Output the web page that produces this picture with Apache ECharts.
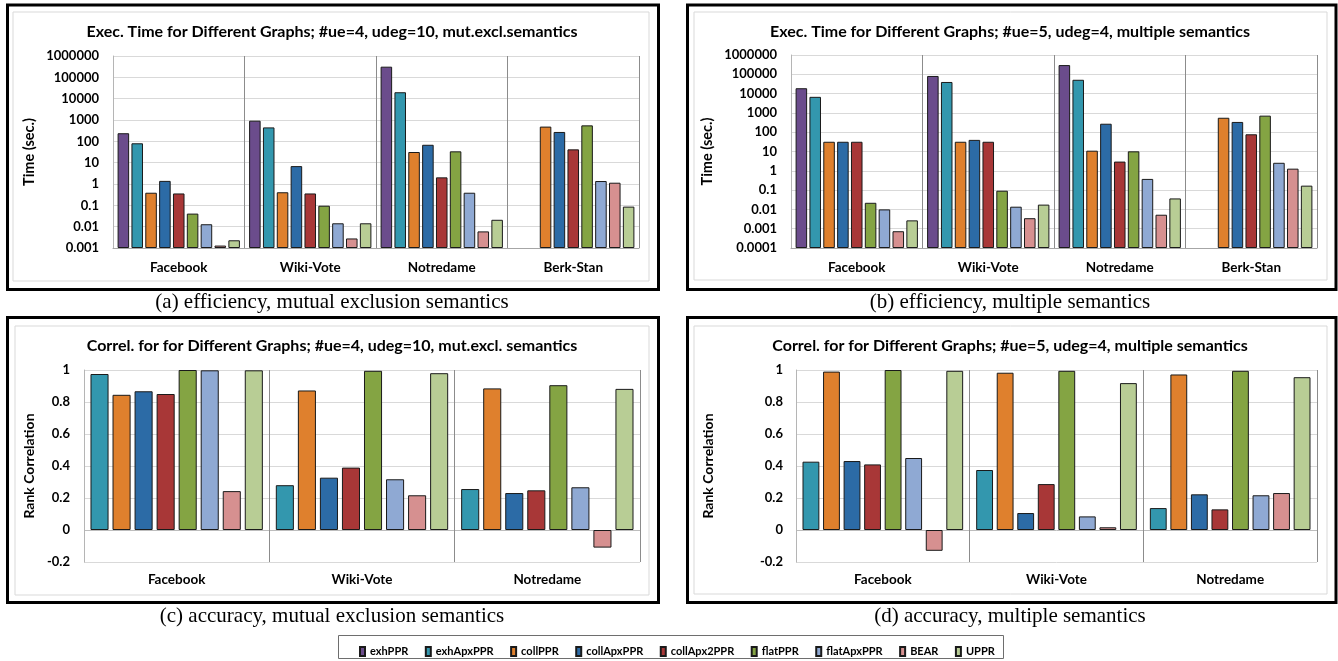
<!DOCTYPE html>
<html><head><meta charset="utf-8">
<script src="https://cdn.jsdelivr.net/npm/echarts@6/dist/echarts.min.js"></script>
<style>html,body{margin:0;padding:0;background:#fff}#c{width:1338px;height:661px}</style>
</head><body><div id="c"></div>
<script>
// ---------- categories / names ----------
const methods = ['exhPPR','exhApxPPR','collPPR','collApxPPR','collApx2PPR','flatPPR','flatApxPPR','BEAR','UPPR'];
const graphs4 = ['Facebook','Wiki-Vote','Notredame','Berk-Stan'];
const graphs3 = ['Facebook','Wiki-Vote','Notredame'];

// ---------- (a) exec time, mutual exclusion semantics ----------
const aExhPPR      = [240, 930, 316000, null];
const aExhApxPPR   = [81, 450, 20000, null];
const aCollPPR     = [0.39, 0.41, 31.6, 490];
const aCollApxPPR  = [1.4, 6.9, 69, 275];
const aCollApx2PPR = [0.36, 0.36, 2.05, 42];
const aFlatPPR     = [0.041, 0.096, 34, 560];
const aFlatApxPPR  = [0.013, 0.0144, 0.39, 1.38];
const aBEAR        = [0.0013, 0.0028, 0.006, 1.15];
const aUPPR        = [0.0023, 0.0144, 0.021, 0.087];

// ---------- (b) exec time, multiple semantics ----------
const bExhPPR      = [19000, 82000, 300000, null];
const bExhApxPPR   = [6800, 40000, 52000, null];
const bCollPPR     = [32, 32, 11, 560];
const bCollApxPPR  = [32, 40, 275, 340];
const bCollApx2PPR = [32, 32, 3.0, 78];
const bFlatPPR     = [0.022, 0.093, 10.2, 720];
const bFlatApxPPR  = [0.01, 0.0138, 0.38, 2.6];
const bBEAR        = [0.00074, 0.0035, 0.0053, 1.29];
const bUPPR        = [0.0027, 0.0177, 0.037, 0.17];

// ---------- (c) rank correlation, mutual exclusion semantics ----------
const cExhApxPPR   = [0.975, 0.28, 0.256];
const cCollPPR     = [0.845, 0.872, 0.885];
const cCollApxPPR  = [0.867, 0.327, 0.231];
const cCollApx2PPR = [0.85, 0.39, 0.248];
const cFlatPPR     = [1.0, 0.995, 0.905];
const cFlatApxPPR  = [0.998, 0.317, 0.267];
const cBEAR        = [0.243, 0.217, -0.11];
const cUPPR        = [0.998, 0.98, 0.882];

// ---------- (d) rank correlation, multiple semantics ----------
const dExhApxPPR   = [0.427, 0.375, 0.137];
const dCollPPR     = [0.99, 0.983, 0.972];
const dCollApxPPR  = [0.431, 0.106, 0.223];
const dCollApx2PPR = [0.41, 0.287, 0.129];
const dFlatPPR     = [1.0, 0.995, 0.995];
const dFlatApxPPR  = [0.45, 0.085, 0.217];
const dBEAR        = [-0.13, 0.017, 0.231];
const dUPPR        = [0.995, 0.918, 0.955];

// ---------- tick labels ----------
const timeTicksA = ['0.001','0.01','0.1','1','10','100','1000','10000','100000','1000000'];
const timeTicksB = ['0.0001','0.001','0.01','0.1','1','10','100','1000','10000','100000','1000000'];
const corrTicks  = ['-0.2','0','0.2','0.4','0.6','0.8','1'];

// ---------- titles ----------
const titleA = 'Exec. Time for Different Graphs; #ue=4, udeg=10, mut.excl.semantics';
const titleB = 'Exec. Time for Different Graphs; #ue=5, udeg=4, multiple semantics';
const titleC = 'Correl. for for Different Graphs; #ue=4, udeg=10, mut.excl. semantics';
const titleD = 'Correl. for for Different Graphs; #ue=5, udeg=4, multiple semantics';
const capA = '(a) efficiency, mutual exclusion semantics';
const capB = '(b) efficiency, multiple semantics';
const capC = '(c) accuracy, mutual exclusion semantics';
const capD = '(d) accuracy, multiple semantics';

const colors = ['#6B4C8C','#3397AE','#DF802D','#2C6BA6','#A83737','#84A443','#8FA9D3','#D69090','#B8CD95'];

const F = 'Lato, "Noto Sans", sans-serif';
const lbl = {fontFamily: F, fontWeight: 'bold', color: '#000'};

const aData = [aExhPPR,aExhApxPPR,aCollPPR,aCollApxPPR,aCollApx2PPR,aFlatPPR,aFlatApxPPR,aBEAR,aUPPR];
const bData = [bExhPPR,bExhApxPPR,bCollPPR,bCollApxPPR,bCollApx2PPR,bFlatPPR,bFlatApxPPR,bBEAR,bUPPR];
const cData = [cExhApxPPR,cCollPPR,cCollApxPPR,cCollApx2PPR,cFlatPPR,cFlatApxPPR,cBEAR,cUPPR];
const dData = [dExhApxPPR,dCollPPR,dCollApxPPR,dCollApx2PPR,dFlatPPR,dFlatApxPPR,dBEAR,dUPPR];

function mkSeries(list, names, cols, idx, gap, catGap) {
  return list.map((d, i) => ({
    type: 'bar', name: names[i], xAxisIndex: idx, yAxisIndex: idx, data: d,
    barGap: gap, barCategoryGap: catGap,
    itemStyle: {color: cols[i], borderColor: '#1a1a1a', borderWidth: 1},
    emphasis: {disabled: true}
  }));
}

const series = [].concat(
  mkSeries(aData, methods, colors, 0, '20%', '7%'),
  mkSeries(bData, methods, colors, 1, '20%', '7%'),
  mkSeries(cData, methods.slice(1), colors.slice(1), 2, '22%', '7%'),
  mkSeries(dData, methods.slice(1), colors.slice(1), 3, '22%', '7.5%')
);

function catAxis(idx, cats, lineShow, margin) {
  return {
    type: 'category', gridIndex: idx, data: cats,
    axisTick: {show: false},
    axisLine: {show: lineShow, lineStyle: {color: '#a6a6a6'}},
    splitLine: {show: true, lineStyle: {color: '#8c8c8c', width: 1}},
    axisLabel: Object.assign({fontSize: 13.5, margin: margin}, lbl)
  };
}
function logAxis(idx, min, ticks, gap) {
  const e0 = Math.round(Math.log10(min));
  return {
    type: 'log', gridIndex: idx, logBase: 10, min: min, max: 1e6, startValue: min,
    name: 'Time (sec.)', nameLocation: 'middle', nameGap: gap,
    nameTextStyle: Object.assign({fontSize: 14.5}, lbl),
    axisLine: {show: true, lineStyle: {color: '#b5b5b5'}},
    axisTick: {show: false},
    splitLine: {show: true, lineStyle: {color: '#d9d9d9'}},
    axisLabel: Object.assign({fontSize: 13, margin: 14,
      formatter: v => ticks[Math.round(Math.log10(v)) - e0]}, lbl)
  };
}
function corrAxis(idx, gap, margin) {
  return {
    type: 'value', gridIndex: idx, min: -0.2, max: 1, interval: 0.2,
    name: 'Rank Correlation', nameLocation: 'middle', nameGap: gap,
    nameTextStyle: Object.assign({fontSize: 14}, lbl),
    axisLine: {show: true, lineStyle: {color: '#b5b5b5'}},
    axisTick: {show: false},
    splitLine: {show: true, lineStyle: {color: ['#d9d9d9','#bdbdbd','#d9d9d9','#d9d9d9','#d9d9d9','#d9d9d9','#d9d9d9']}},
    axisLabel: Object.assign({fontSize: 13, margin: margin,
      formatter: v => corrTicks[Math.round((v + 0.2) / 0.2)]}, lbl)
  };
}

function frame(x1, y1, x2, y2) {
  return {type: 'rect', silent: true, z: 100, shape: {x: x1, y: y1, width: x2 - x1, height: y2 - y1},
    style: {fill: 'none', stroke: '#000', lineWidth: 3}};
}
function inner(x1, y1, x2, y2) {
  return {type: 'rect', silent: true, z: -10, shape: {x: x1, y: y1, width: x2 - x1, height: y2 - y1},
    style: {fill: '#fff', stroke: '#d9d9d9', lineWidth: 1}};
}
function ttl(text, x, y) {
  return {type: 'text', silent: true, x: x, y: y, style: {text: text, align: 'center', verticalAlign: 'middle',
    fontFamily: F, fontWeight: 'bold', fontSize: 16, fill: '#000'}};
}
function cap(text, x, y) {
  return {type: 'text', silent: true, x: x, y: y, style: {text: text, align: 'center', verticalAlign: 'middle',
    fontFamily: '"Liberation Serif", "DejaVu Serif", serif', fontSize: 21, fill: '#000'}};
}

const option = {
  animation: false,
  backgroundColor: '#fff',
  grid: [
    {left: 113, top: 56, width: 526, height: 192},
    {left: 791, top: 55, width: 526, height: 193},
    {left: 84, top: 370, width: 556, height: 192},
    {left: 796, top: 370, width: 521, height: 192}
  ],
  xAxis: [
    catAxis(0, graphs4, true, 13),
    catAxis(1, graphs4, true, 13),
    catAxis(2, graphs3, false, 11),
    catAxis(3, graphs3, false, 11)
  ],
  yAxis: [
    logAxis(0, 0.001, timeTicksA, 76),
    logAxis(1, 0.0001, timeTicksB, 76),
    corrAxis(2, 48, 14),
    corrAxis(3, 81, 13)
  ],
  legend: {
    data: methods, left: 354, top: 641, icon: 'rect', itemWidth: 5, itemHeight: 9, itemGap: 16.5,
    selectedMode: false,
    textStyle: {fontFamily: F, fontWeight: 'bold', fontSize: 11, color: '#000'}
  },
  graphic: [
    inner(13, 12, 649, 281), inner(694, 12, 1327, 280),
    inner(15, 326, 649, 595), inner(694, 326, 1327, 594),
    frame(7.5, 5, 658.5, 289.5), frame(687.5, 5, 1336, 289.5),
    frame(7.5, 317.5, 658.5, 602.5), frame(687.5, 317.5, 1336, 602.5),
    ttl(titleA, 332, 32), ttl(titleB, 1010, 32), ttl(titleC, 332, 346), ttl(titleD, 1010, 346),
    cap(capA, 332, 302), cap(capB, 1010, 302), cap(capC, 332, 616), cap(capD, 1010, 616),
    {type: 'rect', silent: true, shape: {x: 338.5, y: 635.5, width: 665, height: 23},
      style: {fill: 'none', stroke: '#6e6e6e', lineWidth: 1}}
  ],
  series: series
};
const chart = echarts.init(document.getElementById('c'), null, {renderer: 'canvas'});
chart.setOption(option);
</script></body></html>
